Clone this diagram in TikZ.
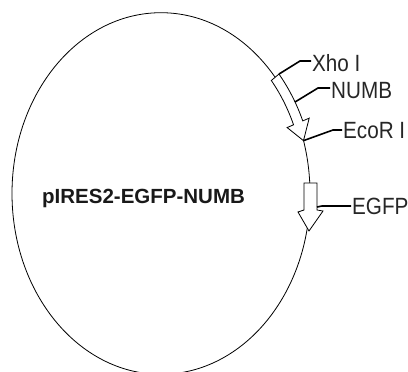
\documentclass[tikz,border=0pt]{standalone}
\usepackage{fontspec}
\setmainfont{Liberation Sans}
\newfontfamily\labfont[FakeStretch=0.88]{Liberation Sans}
\begin{document}
\begin{tikzpicture}[x=1pt,y=-1pt,
  ring/.style={line width=0.8pt},
  gene/.style={draw, line width=0.8pt, fill=white, line join=miter},
  leader/.style={line width=1.6pt},
  lab/.style={anchor=base west, inner sep=0pt, font=\labfont\fontsize{23.5}{26}\selectfont, text=black!85},
  title/.style={anchor=base west, inner sep=0pt, font=\fontsize{20.5}{24}\selectfont\bfseries, text=black!90}]
\clip (0,0) rectangle (408,372);
% plasmid backbone
\draw[ring] (161,193.5) ellipse [x radius=149pt, y radius=180.8pt];
% NUMB gene arrow (curved along the ring)
\draw[gene] plot[domain=40:23,samples=18] ({161+154*cos(\x)},{193.5-185.8*sin(\x)})
  -- ({161+161*cos(23)},{193.5-192.8*sin(23)})
  -- ({161+149*cos(17)},{193.5-180.8*sin(17)})
  -- ({161+137*cos(23)},{193.5-168.8*sin(23)})
  -- plot[domain=23:40,samples=18] ({161+144*cos(\x)},{193.5-175.8*sin(\x)}) -- cycle;
% EGFP gene arrow
\draw[gene] (304,183) -- (317,183) -- (317,210) -- (323,211) -- (309,231) -- (298,212) -- (304,210) -- cycle;
% anchor points on the features
\coordinate (xhopt) at ({161+154*cos(40)},{193.5-185.8*sin(40)});
\coordinate (numbpt) at ({161+154*cos(29.5)},{193.5-185.8*sin(29.5)});
\coordinate (ecopt) at ({161+149*cos(17)},{193.5-180.8*sin(17)});
\coordinate (egfppt) at (317,207);
% elbows
\coordinate (xhoel) at (300,61);
\coordinate (numbel) at (318,88);
\coordinate (ecoel) at (333,130);
\coordinate (egfpel) at (322,206);
% labels
\node[lab] (xho) at (312,71) {Xho I};
\node[lab] (numb) at (331,99) {NUMB};
\node[lab] (eco) at (343,139) {EcoR I};
\node[lab] (egfp) at (352,214) {EGFP};
\node[title] (name) at (42,203) {pIRES2-EGFP-NUMB};
% leaders
\draw[leader] (xhopt) -- (xhoel) -- ([xshift=-1pt]xhoel -| xho.west);
\draw[leader] (numbpt) -- (numbel) -- ([xshift=-1pt]numbel -| numb.west);
\draw[leader] (ecopt) -- (ecoel) -- ([xshift=-1pt]ecoel -| eco.west);
\draw[leader] (egfppt) -- (egfpel) -- ([xshift=-1pt]egfpel -| egfp.west);
\end{tikzpicture}
\end{document}
